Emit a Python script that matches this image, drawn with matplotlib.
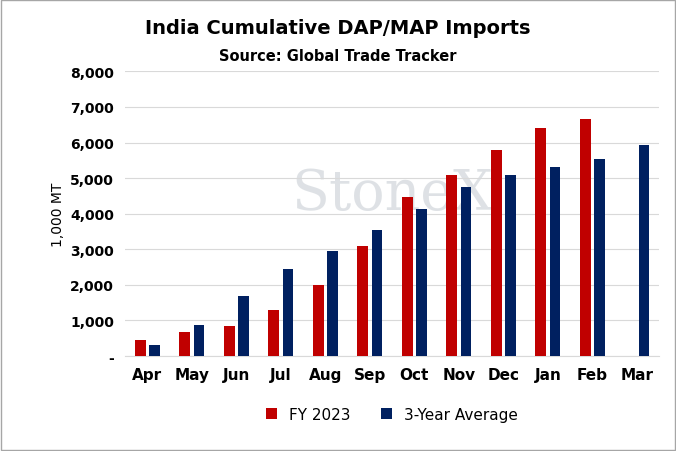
import matplotlib.pyplot as plt
import numpy as np

months = ['Apr', 'May', 'Jun', 'Jul', 'Aug', 'Sep', 'Oct', 'Nov', 'Dec', 'Jan', 'Feb', 'Mar']
fy2023 = [450, 680, 850, 1300, 2000, 3080, 4470, 5080, 5780, 6400, 6670, np.nan]
avg3 = [320, 860, 1700, 2450, 2950, 3550, 4130, 4750, 5080, 5300, 5550, 5920]
yticks = [0, 1000, 2000, 3000, 4000, 5000, 6000, 7000, 8000]
ylabels = ['-', '1,000', '2,000', '3,000', '4,000', '5,000', '6,000', '7,000', '8,000']

plt.rcParams['font.family'] = 'DejaVu Sans'
fig = plt.figure(figsize=(6.76, 4.52), dpi=100)
fig.patches.append(plt.Rectangle((0.002, 0.002), 0.996, 0.996, transform=fig.transFigure,
                                 fill=False, edgecolor='#a6a6a6', linewidth=1))
x = np.arange(len(months))
w = 0.24
plt.bar(x - 0.16, fy2023, w, color='#C00000', label='FY 2023', zorder=3)
plt.bar(x + 0.16, avg3, w, color='#002060', label='3-Year Average', zorder=3)
plt.figtext(0.5, 0.925, 'India Cumulative DAP/MAP Imports', ha='center', fontsize=14, fontweight='bold')
plt.figtext(0.5, 0.865, 'Source: Global Trade Tracker', ha='center', fontsize=10.5, fontweight='bold')
plt.ylabel('1,000 MT', fontsize=10)
plt.ylim([0, 8000])
plt.xlim([-0.5, 11.5])
plt.yticks(yticks, ylabels, fontsize=10, fontweight='bold')
plt.xticks(x, months, fontsize=11, fontweight='bold')
plt.grid(axis='y', color='#d9d9d9', zorder=0)
plt.tick_params(length=0, pad=8)
ax = plt.gca()
for s in ['top', 'right', 'left']:
    ax.spines[s].set_visible(False)
ax.spines['bottom'].set_color('#d9d9d9')
plt.text(0.5, 0.57, 'StoneX', transform=ax.transAxes, ha='center', va='center',
         fontsize=40, family='DejaVu Serif', color='#bfc5cc', alpha=0.5, zorder=1)
plt.legend(loc='upper center', bbox_to_anchor=(0.5, -0.13), ncol=2, frameon=False, fontsize=11,
           handlelength=0.7, handleheight=0.7)
plt.subplots_adjust(left=0.185, right=0.975, top=0.84, bottom=0.21)
plt.savefig('out.png')
